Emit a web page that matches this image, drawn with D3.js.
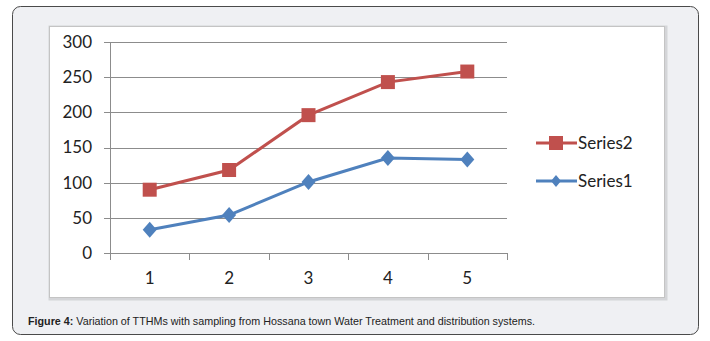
<!DOCTYPE html>
<html>
<head>
<meta charset="utf-8">
<script src="https://cdn.jsdelivr.net/npm/d3@7"></script>
<style>
  body { margin: 0; background: #fff; }
  svg { display: block; }
</style>
</head>
<body>
<div id="chart"></div>
<script>
// Chart data
const categories = ['1', '2', '3', '4', '5'];
const series2 = [90, 118, 196, 243, 258];
const series1 = [33, 54, 101, 135, 133];
const yTicks = [0, 50, 100, 150, 200, 250, 300];
const legendNames = ['Series2', 'Series1'];
const caption = 'Variation of TTHMs with sampling from Hossana town Water Treatment and distribution systems.';

const width = 710, height = 341;
const red = '#C0504D', blue = '#4F81BD';

const svg = d3.select('#chart').append('svg')
    .attr('width', width)
    .attr('height', height);

// Outer rounded frame
svg.append('rect')
    .attr('x', 12.5).attr('y', 6.5)
    .attr('width', 686).attr('height', 328)
    .attr('rx', 8)
    .attr('fill', '#eff0f3')
    .attr('stroke', '#4a4a4a')
    .attr('stroke-width', 1);

// Inner chart box
svg.append('rect')
    .attr('x', 50).attr('y', 27)
    .attr('width', 616).attr('height', 272)
    .attr('fill', 'none')
    .attr('stroke', '#d4d5d8')
    .attr('stroke-width', 3);
svg.append('rect')
    .attr('x', 49.5).attr('y', 26.5)
    .attr('width', 615).attr('height', 271)
    .attr('fill', '#fff')
    .attr('stroke', '#c4c4c4')
    .attr('stroke-width', 1);

// Scales
const x = d3.scaleBand().domain(categories).range([110, 507]);
const y = d3.scaleLinear().domain([0, 300]).range([253, 42]);

// Gridlines
svg.append('g')
    .selectAll('line')
    .data(yTicks)
    .enter().append('line')
    .attr('x1', 104).attr('x2', 507)
    .attr('y1', d => Math.round(y(d)) + 0.5)
    .attr('y2', d => Math.round(y(d)) + 0.5)
    .attr('stroke', '#8c8c8c')
    .attr('stroke-width', 1);

// Y axis line
svg.append('line')
    .attr('x1', 110.5).attr('x2', 110.5)
    .attr('y1', y(300)).attr('y2', y(0))
    .attr('stroke', '#8c8c8c');

// Y tick labels
svg.append('g')
    .selectAll('text')
    .data(yTicks)
    .enter().append('text')
    .attr('x', 92)
    .attr('y', d => y(d))
    .attr('dy', '0.35em')
    .attr('text-anchor', 'end')
    .attr('font-family', 'Lato, "Open Sans", sans-serif')
    .attr('font-size', 17)
    .attr('fill', '#222')
    .text(d => d);

// X axis ticks at band boundaries
const bounds = categories.map(c => x(c)).concat([x.range()[1]]);
svg.append('g')
    .selectAll('line')
    .data(bounds)
    .enter().append('line')
    .attr('x1', d => Math.round(d) + 0.5)
    .attr('x2', d => Math.round(d) + 0.5)
    .attr('y1', y(0)).attr('y2', y(0) + 7)
    .attr('stroke', '#8c8c8c');

// X labels
svg.append('g')
    .selectAll('text')
    .data(categories)
    .enter().append('text')
    .attr('x', d => x(d) + x.bandwidth() / 2)
    .attr('y', 278)
    .attr('dy', '0.35em')
    .attr('text-anchor', 'middle')
    .attr('font-family', 'Lato, "Open Sans", sans-serif')
    .attr('font-size', 17)
    .attr('fill', '#222')
    .text(d => d);

const line = d3.line()
    .x((d, i) => x(categories[i]) + x.bandwidth() / 2)
    .y(d => y(d));

// Series2 line + squares
svg.append('path')
    .datum(series2)
    .attr('d', line)
    .attr('fill', 'none')
    .attr('stroke', red)
    .attr('stroke-width', 3);
svg.append('g')
    .selectAll('rect')
    .data(series2)
    .enter().append('rect')
    .attr('x', (d, i) => x(categories[i]) + x.bandwidth() / 2 - 7)
    .attr('y', d => y(d) - 7)
    .attr('width', 14).attr('height', 14)
    .attr('fill', red);

// Series1 line + diamonds
svg.append('path')
    .datum(series1)
    .attr('d', line)
    .attr('fill', 'none')
    .attr('stroke', blue)
    .attr('stroke-width', 3);
const diamond = 'M0,-8L7,0L0,8L-7,0Z';
svg.append('g')
    .selectAll('path')
    .data(series1)
    .enter().append('path')
    .attr('transform', (d, i) => `translate(${x(categories[i]) + x.bandwidth() / 2},${y(d)})`)
    .attr('d', diamond)
    .attr('fill', blue);

// Legend
const legend = svg.append('g');
const legendColors = [red, blue];
legendNames.forEach((name, i) => {
    const ly = 143 + i * 38;
    legend.append('line')
        .attr('x1', 536).attr('x2', 577)
        .attr('y1', ly).attr('y2', ly)
        .attr('stroke', legendColors[i])
        .attr('stroke-width', 3);
    if (i === 0) {
        legend.append('rect')
            .attr('x', 549).attr('y', ly - 7)
            .attr('width', 14).attr('height', 14)
            .attr('fill', red);
    } else {
        legend.append('path')
            .attr('transform', `translate(556,${ly})`)
            .attr('d', 'M0,-6L5,0L0,6L-5,0Z')
            .attr('fill', blue);
    }
    legend.append('text')
        .attr('x', 578)
        .attr('y', ly)
        .attr('dy', '0.35em')
        .attr('font-family', 'Lato, "Open Sans", sans-serif')
        .attr('font-size', 17)
        .attr('fill', '#222')
        .text(name);
});

// Caption (narrow face squeezed to match the reference width)
const cap = svg.append('text')
    .attr('x', 28)
    .attr('y', 325)
    .attr('font-family', '"Liberation Sans Narrow", "Liberation Sans", Arial, sans-serif')
    .attr('font-size', 11.5)
    .attr('fill', '#222')
    .attr('textLength', 507)
    .attr('lengthAdjust', 'spacingAndGlyphs');
cap.append('tspan').attr('font-weight', 'bold').text('Figure 4:');
cap.append('tspan').text(' ' + caption);
</script>
</body>
</html>
